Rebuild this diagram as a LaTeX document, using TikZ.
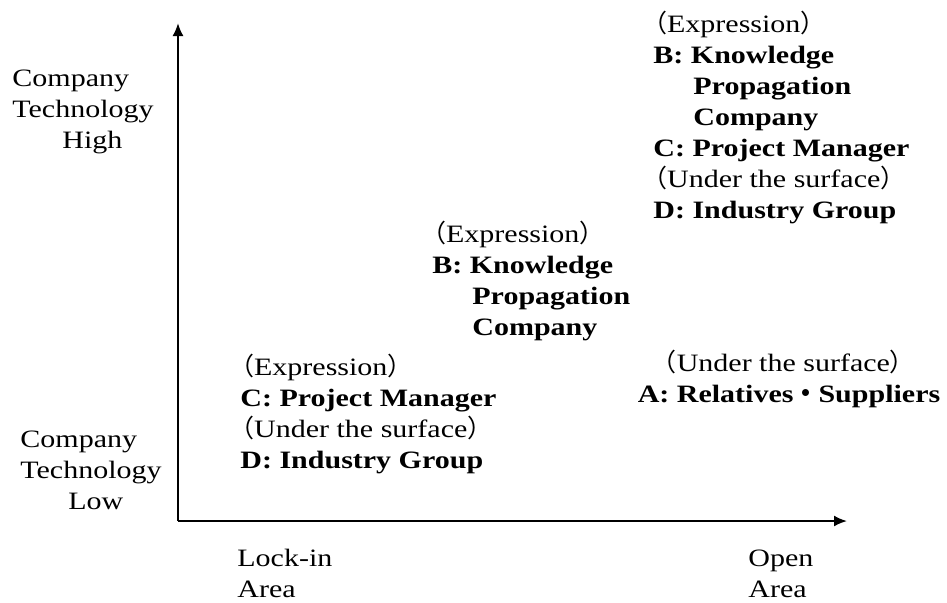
\documentclass[tikz,border=0pt]{standalone}
\usepackage{fontspec}
\setmainfont{Liberation Serif}[FakeStretch=1.2]
\newfontfamily\cjk{Noto Sans CJK JP}
\usetikzlibrary{arrows.meta}
\newcommand{\fwl}{\hspace{-0.45em}{\cjk （}}
\newcommand{\fwr}{{\cjk ）}}
\newcommand{\fwdot}{{\cjk\bfseries ・}}
\tikzset{
  lbl/.style={inner sep=0pt,anchor=base west,align=left,
    font=\fontsize{12.5pt}{15.5pt}\selectfont},
  axis/.style={line width=1pt,-{Latex[length=6.5pt,width=5.5pt]}}
}
\begin{document}
\begin{tikzpicture}[x=0.5pt,y=-0.5pt]
\useasboundingbox (0,0) rectangle (947,602);

% axes
\coordinate (O) at (178,521);
\coordinate (ytop) at (178,23);
\coordinate (xend) at (847,521);
\draw[axis] (O) -- (ytop);
\draw[axis] (O) -- (xend);

% axis labels (base = last line)
\node[lbl] (high) at (12,148) {Company\\Technology\\\hspace{25pt}High};
\node[lbl] (low) at (20,509) {Company\\Technology\\\hspace{24pt}Low};
\node[lbl] (lockin) at (237,597) {Lock-in\\Area};
\node[lbl] (open) at (748,597) {Open\\Area};

% quadrant contents
\node[lbl] (topright) at (653,218)
  {\fwl Expression\fwr\\
   \textbf{B: Knowledge}\\
   \hspace{20pt}\textbf{Propagation}\\
   \hspace{20pt}\textbf{Company}\\
   \textbf{C: Project Manager}\\
   \fwl Under the surface\fwr\\
   \textbf{D: Industry Group}};
\node[lbl] (middle) at (432,335)
  {\fwl Expression\fwr\\
   \textbf{B: Knowledge}\\
   \hspace{20pt}\textbf{Propagation}\\
   \hspace{20pt}\textbf{Company}};
\node[lbl] (lowleft) at (240,468)
  {\fwl Expression\fwr\\
   \textbf{C: Project Manager}\\
   \fwl Under the surface\fwr\\
   \textbf{D: Industry Group}};
\node[lbl,align=center,anchor=base] (lowright) at (789,402)
  {\fwl Under the surface\fwr\\
   \textbf{A: Relatives\fwdot Suppliers}};
\end{tikzpicture}
\end{document}
